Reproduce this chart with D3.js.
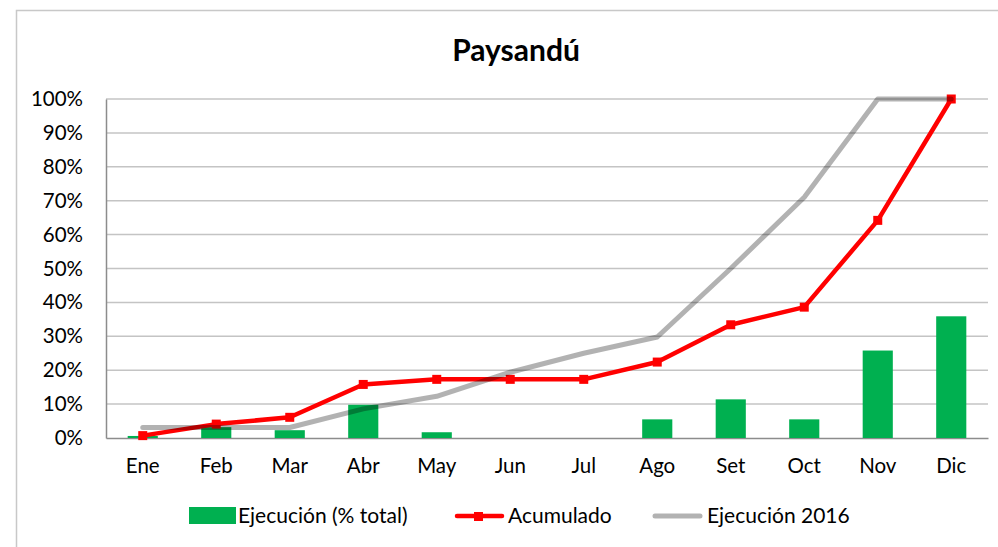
<!DOCTYPE html>
<html>
<head>
<meta charset="utf-8">
<script src="https://cdn.jsdelivr.net/npm/d3@7"></script>
<style>
  body { margin: 0; background: #fff; }
  text { font-family: Lato, "Open Sans", sans-serif; fill: #000; }
</style>
</head>
<body>
<div id="vis-holder"></div>
<script>
let MONTHS = ["Ene","Feb","Mar","Abr","May","Jun","Jul","Ago","Set","Oct","Nov","Dic"]
// monthly execution, % of total
let EJECUCION = [0.6, 3.2, 2.3, 9.8, 1.7, 0, 0, 5.5, 11.4, 5.5, 25.8, 35.9]
// accumulated execution, %
let ACUMULADO = [0.7, 4.1, 6.1, 15.8, 17.3, 17.3, 17.3, 22.4, 33.4, 38.6, 64.2, 100]
// accumulated execution of 2016, %
let EJEC_2016 = [3.1, 3.1, 3.1, 8.6, 12.3, 19.4, 25, 29.8, 50, 71, 100, 100]
let Y_TICKS = [0, 10, 20, 30, 40, 50, 60, 70, 80, 90, 100]

// set the dimensions and margins of the graph
var margin = {top: 99, right: 10, bottom: 109, left: 106},
    width = 998 - margin.left - margin.right,
    height = 547 - margin.top - margin.bottom;

var svg = d3.select("#vis-holder")
  .append("svg")
    .attr("width", 998)
    .attr("height", 547);

// chart border
svg.append("rect")
  .attr("x", 16.5).attr("y", 10.5)
  .attr("width", 1000).attr("height", 600)
  .attr("fill", "none")
  .attr("stroke", "#c8c8c8")
  .attr("stroke-width", 1.5);

svg.append("text")
  .attr("x", 516).attr("y", 61)
  .attr("text-anchor", "middle")
  .style("font-size", "30px")
  .style("font-weight", "bold")
  .text("Paysandú");

var plot = svg.append("g")
  .attr("transform", "translate(" + margin.left + "," + margin.top + ")");

var x = d3.scaleBand()
  .domain(MONTHS)
  .range([0, width]);

var y = d3.scaleLinear()
  .domain([0, 100])
  .range([height, 0]);

// grid lines
plot.append("g")
  .selectAll("line")
  .data(Y_TICKS.slice(1))
  .enter()
  .append("line")
    .attr("x1", 0).attr("x2", width)
    .attr("y1", d => y(d)).attr("y2", d => y(d))
    .attr("stroke", "#c4c4c4")
    .attr("stroke-width", 1.5);

// Y axis
var yAxis = plot.append("g")
  .call(d3.axisLeft(y).tickValues(Y_TICKS).tickSize(0).tickPadding(23).tickFormat(d => d + "%"));
yAxis.select(".domain").attr("stroke", "#8c8c8c").attr("stroke-width", 1.5);
yAxis.selectAll("text").style("font-size", "20.5px").attr("fill", "#000");

// X axis
var xAxis = plot.append("g")
  .attr("transform", "translate(0," + height + ")")
  .call(d3.axisBottom(x).tickSize(0).tickPadding(20));
xAxis.select(".domain").attr("stroke", "#8c8c8c").attr("stroke-width", 1.5);
xAxis.selectAll("text").style("font-size", "20.5px").attr("fill", "#000");

// bars
var barW = x.bandwidth() * 0.41;
plot.append("g")
  .selectAll("rect")
  .data(EJECUCION)
  .enter()
  .append("rect")
    .attr("x", (d, i) => x(MONTHS[i]) + x.bandwidth() / 2 - barW / 2)
    .attr("y", d => y(d))
    .attr("width", barW)
    .attr("height", d => y(0) - y(d))
    .attr("fill", "#00b050");

var cx = i => x(MONTHS[i]) + x.bandwidth() / 2;
var line = d3.line()
  .x((d, i) => cx(i))
  .y(d => y(d));

// accumulated line with square markers
plot.append("path")
  .datum(ACUMULADO)
  .attr("d", line)
  .attr("fill", "none")
  .attr("stroke", "#ff0000")
  .attr("stroke-width", 4.5)
  .attr("stroke-linejoin", "round");

plot.append("g")
  .selectAll("rect")
  .data(ACUMULADO)
  .enter()
  .append("rect")
    .attr("x", (d, i) => cx(i) - 4.5)
    .attr("y", d => y(d) - 4.5)
    .attr("width", 9).attr("height", 9)
    .attr("fill", "#ff0000");

// 2016 line, semi transparent on top
plot.append("path")
  .datum(EJEC_2016)
  .attr("d", line)
  .attr("fill", "none")
  .attr("stroke", "#000")
  .attr("stroke-opacity", 0.3)
  .attr("stroke-width", 5)
  .attr("stroke-linejoin", "round")
  .attr("stroke-linecap", "round");

// legend
var legend = svg.append("g");
legend.append("rect")
  .attr("x", 189).attr("y", 507)
  .attr("width", 47).attr("height", 17)
  .attr("fill", "#00b050");
legend.append("text")
  .attr("x", 238).attr("y", 523)
  .style("font-size", "21px")
  .text("Ejecución (% total)");

legend.append("line")
  .attr("x1", 457).attr("x2", 502)
  .attr("y1", 516).attr("y2", 516)
  .attr("stroke", "#ff0000").attr("stroke-width", 4.5)
  .attr("stroke-linecap", "round");
legend.append("rect")
  .attr("x", 474).attr("y", 512)
  .attr("width", 9).attr("height", 9)
  .attr("fill", "#ff0000");
legend.append("text")
  .attr("x", 508).attr("y", 523)
  .style("font-size", "21px")
  .text("Acumulado");

legend.append("line")
  .attr("x1", 655).attr("x2", 700)
  .attr("y1", 516).attr("y2", 516)
  .attr("stroke", "#000").attr("stroke-opacity", 0.3)
  .attr("stroke-width", 5)
  .attr("stroke-linecap", "round");
legend.append("text")
  .attr("x", 707).attr("y", 523)
  .style("font-size", "21px")
  .text("Ejecución 2016");
</script>
</body>
</html>
